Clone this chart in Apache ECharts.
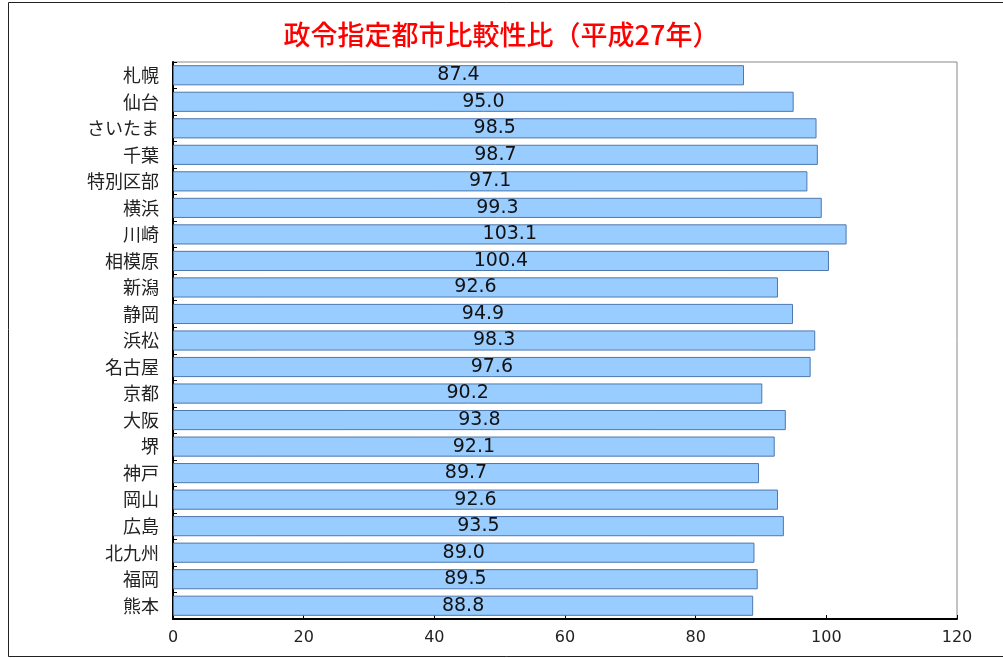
<!DOCTYPE html>
<html>
<head>
<meta charset="utf-8">
<script src="https://cdn.jsdelivr.net/npm/echarts@6/dist/echarts.min.js"></script>
<style>
  html, body { margin: 0; padding: 0; background: #fff; }
  #main { width: 1003px; height: 658px; }
</style>
</head>
<body>
<div id="main"></div>
<script>
var cities = ['札幌', '仙台', 'さいたま', '千葉', '特別区部', '横浜', '川崎', '相模原', '新潟', '静岡', '浜松',
  '名古屋', '京都', '大阪', '堺', '神戸', '岡山', '広島', '北九州', '福岡', '熊本'];
var sexRatio = [87.4, 95.0, 98.5, 98.7, 97.1, 99.3, 103.1, 100.4, 92.6, 94.9, 98.3,
  97.6, 90.2, 93.8, 92.1, 89.7, 92.6, 93.5, 89.0, 89.5, 88.8];
var xTicks = [0, 20, 40, 60, 80, 100, 120];

var myChart = echarts.init(document.getElementById('main'));
var font = '"Noto Sans CJK JP", "Noto Sans", sans-serif';
var numFont = '"DejaVu Sans", sans-serif';

myChart.setOption({
  animation: false,
  title: {
    text: '政令指定都市比較性比（平成27年）',
    left: 'center',
    top: 16,
    textStyle: { color: '#ff0000', fontSize: 27, fontWeight: 500, fontFamily: font }
  },
  grid: { left: 173, right: 46, top: 62, bottom: 39, show: true, borderColor: '#888', borderWidth: 1 },
  xAxis: {
    type: 'value',
    min: xTicks[0],
    max: xTicks[xTicks.length - 1],
    interval: 20,
    splitLine: { show: false },
    axisLine: { show: true, lineStyle: { color: '#000', width: 2 } },
    axisTick: { show: true, inside: true, length: 4, lineStyle: { color: '#000' } },
    axisLabel: { color: '#222', fontSize: 16, fontFamily: numFont, margin: 11 }
  },
  yAxis: {
    type: 'category',
    inverse: true,
    data: cities,
    axisLine: { show: true, lineStyle: { color: '#000', width: 2 } },
    axisTick: { show: true, inside: true, length: 4, lineStyle: { color: '#000' } },
    axisLabel: { color: '#222', fontSize: 18, fontFamily: font, margin: 14 }
  },
  series: [{
    type: 'bar',
    data: sexRatio,
    barCategoryGap: '24%',
    itemStyle: { color: '#99ccff', borderColor: '#4f78ad', borderWidth: 1 },
    label: {
      show: true,
      position: 'inside',
      color: '#111',
      fontSize: 19,
      fontFamily: numFont,
      formatter: function (p) { return p.value.toFixed(1); }
    }
  }],
  graphic: [{
    type: 'rect',
    shape: { x: 8.5, y: 2.5, width: 1000, height: 654 },
    style: { fill: 'none', stroke: '#222', lineWidth: 1 },
    silent: true
  }]
});
</script>
</body>
</html>
